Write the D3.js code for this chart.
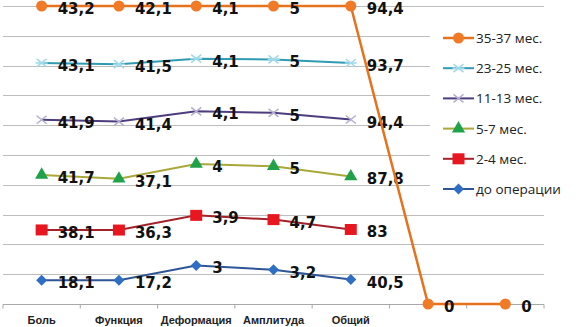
<!DOCTYPE html>
<html>
<head>
<meta charset="utf-8">
<script src="https://d3js.org/d3.v7.min.js"></script>
<style>
  body { margin: 0; background: #fff; }
</style>
</head>
<body>
<script>
var width = 576, height = 327;

// categories (last two are empty slots)
var categories = ['Боль', 'Функция', 'Деформация', 'Амплитуда', 'Общий', '', ' '];

// series, bottom to top
var seriesNames = ['до операции', '2-4 мес.', '5-7 мес.', '11-13 мес.', '23-25 мес.', '35-37 мес.'];
var preOp  = [18.1, 17.2, 3, 3.2, 40.5, null, null];
var m2_4   = [38.1, 36.3, 3.9, 4.7, 83, null, null];
var m5_7   = [41.7, 37.1, 4, 5, 87.8, null, null];
var m11_13 = [41.9, 41.4, 4.1, 5, 94.4, null, null];
var m23_25 = [43.1, 41.5, 4.1, 5, 93.7, null, null];
var m35_37 = [43.2, 42.1, 4.1, 5, 94.4, 0, 0];
var allValues = [preOp, m2_4, m5_7, m11_13, m23_25, m35_37];

var lineColors   = ['#2f5597', '#a3222a', '#a9a83a', '#4e3d7e', '#2f9bb3', '#e5721c'];
var markerColors = ['#2e6fc4', '#e8161f', '#20a24a', '#b5aece', '#9fd9ea', '#f07a26'];
var markerKinds  = ['diamond', 'square', 'triangle', 'times', 'asterisk', 'circle'];

var svg = d3.select('body').append('svg').attr('width', width).attr('height', height);

var x = d3.scaleBand().domain(categories).range([3, 544]);
var y = d3.scaleLinear().domain([0, 1]).range([304, 6]);

// 100% stacked
var rows = categories.map(function (c, j) {
    var r = {};
    seriesNames.forEach(function (s, i) { r[s] = allValues[i][j] == null ? 0 : allValues[i][j]; });
    return r;
});
var stacked = d3.stack().keys(seriesNames).offset(d3.stackOffsetExpand)(rows);

// gridlines
svg.append('g').selectAll('line')
    .data(d3.range(1, 11).map(function (d) { return d / 10; }))
    .join('line')
    .attr('x1', 3).attr('x2', 544)
    .attr('y1', function (d) { return Math.round(y(d)) + 0.5; })
    .attr('y2', function (d) { return Math.round(y(d)) + 0.5; })
    .attr('stroke', '#bdbdbd').attr('stroke-width', 1);

// x axis
var xAxis = svg.append('g').attr('transform', 'translate(0,' + (y(0) + 0.5) + ')');
xAxis.append('line').attr('x1', 3).attr('x2', 544).attr('stroke', '#a8a8a8');
xAxis.selectAll('.tk')
    .data(d3.range(categories.length + 1))
    .join('line')
    .attr('x1', function (i) { return 3 + i * x.step(); })
    .attr('x2', function (i) { return 3 + i * x.step(); })
    .attr('y1', 0).attr('y2', 4)
    .attr('stroke', '#a8a8a8');
xAxis.selectAll('text')
    .data(categories)
    .join('text')
    .attr('x', function (d) { return x(d) + x.bandwidth() / 2; })
    .attr('y', 19)
    .attr('text-anchor', 'middle')
    .attr('font-family', 'Liberation Sans, Arial, sans-serif')
    .attr('font-size', 11).attr('font-weight', 'bold')
    .attr('fill', '#222')
    .text(function (d) { return d; });

function markerPath(kind) {
    if (kind === 'diamond') return 'M0,-5.5L5.5,0L0,5.5L-5.5,0Z';
    if (kind === 'square') return 'M-6,-5.5H6V5.5H-6Z';
    if (kind === 'triangle') return d3.symbol(d3.symbolTriangle, 75)();
    if (kind === 'circle') return d3.symbol(d3.symbolCircle, 95)();
    if (kind === 'times') return 'M-5,-4L5,4M-5,4L5,-4';
    return 'M-5,-4L5,4M-5,4L5,-4M-6,0H6';
}

var stroked = { times: true, asterisk: true };

stacked.forEach(function (layer, i) {
    var pts = layer.map(function (d, j) {
        return { cx: x(categories[j]) + x.bandwidth() / 2, cy: y(d[1]), v: allValues[i][j] };
    }).filter(function (p) { return p.v != null; });

    var g = svg.append('g');
    g.append('path')
        .datum(pts)
        .attr('fill', 'none')
        .attr('stroke', lineColors[i])
        .attr('stroke-width', i === 5 ? 2.5 : 2)
        .attr('d', d3.line().x(function (p) { return p.cx; }).y(function (p) { return p.cy; }));

    g.selectAll('.mk').data(pts).join('path')
        .attr('transform', function (p) { return 'translate(' + p.cx + ',' + p.cy + ')'; })
        .attr('d', markerPath(markerKinds[i]))
        .attr('fill', stroked[markerKinds[i]] ? 'none' : markerColors[i])
        .attr('stroke', stroked[markerKinds[i]] ? markerColors[i] : 'none')
        .attr('stroke-width', 1.5);

    g.selectAll('text').data(pts).join('text')
        .attr('x', function (p) { return p.cx + 16; })
        .attr('y', function (p) { return p.cy + 8; })
        .attr('font-family', 'DejaVu Sans, Verdana, sans-serif')
        .attr('font-size', 15).attr('font-weight', 'bold')
        .attr('fill', '#111')
        .text(function (p) { return String(p.v).replace('.', ','); });
});

// legend
var legend = svg.append('g');
legend.append('rect').attr('x', 430).attr('y', 20).attr('width', 146).attr('height', 186).attr('fill', '#fff');
var order = d3.range(seriesNames.length).reverse();
order.forEach(function (i, k) {
    var ly = 38 + k * 30.2;
    var lg = legend.append('g');
    lg.append('line').attr('x1', 443).attr('x2', 474).attr('y1', ly).attr('y2', ly)
        .attr('stroke', lineColors[i]).attr('stroke-width', i === 5 ? 2.5 : 2);
    lg.append('path')
        .attr('transform', 'translate(458.5,' + ly + ')')
        .attr('d', markerPath(markerKinds[i]))
        .attr('fill', stroked[markerKinds[i]] ? 'none' : markerColors[i])
        .attr('stroke', stroked[markerKinds[i]] ? markerColors[i] : 'none')
        .attr('stroke-width', 1.5);
    lg.append('text').attr('x', 476).attr('y', ly + 5)
        .attr('font-family', 'Open Sans, sans-serif')
        .attr('font-size', 13.5)
        .attr('fill', '#222')
        .text(seriesNames[i]);
});
</script>
</body>
</html>
